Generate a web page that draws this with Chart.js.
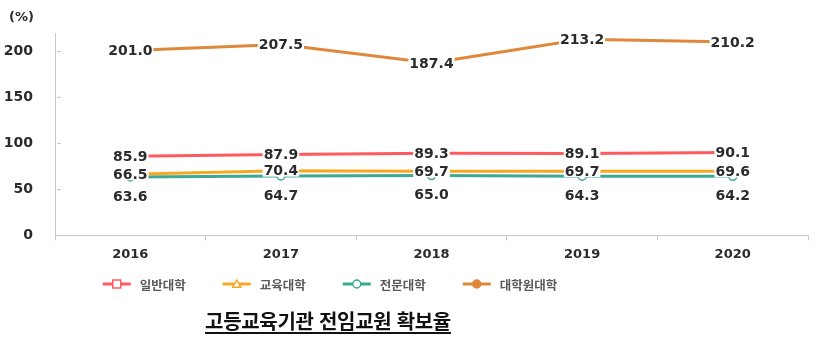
<!DOCTYPE html>
<html lang="ko">
<head>
<meta charset="utf-8">
<script src="https://cdn.jsdelivr.net/npm/chart.js@4.4.1/dist/chart.umd.min.js"></script>
<style>
    html, body { margin: 0; padding: 0; background: #fff; }
    #wrap { position: relative; width: 826px; height: 339px; }
    #title {
        position: absolute; left: 0; width: 656px; top: 306px;
        text-align: center;
        font: bold 20px "Noto Sans CJK KR", sans-serif;
        color: #111;
        text-decoration: underline;
        text-underline-offset: 3px;
        letter-spacing: -0.3px;
    }
</style>
</head>
<body>
<div id="wrap">
    <canvas id="chart" width="826" height="339"></canvas>
    <div id="title">고등교육기관 전임교원 확보율</div>
</div>
<script>
const years = ['2016', '2017', '2018', '2019', '2020'];
const general = [85.9, 87.9, 89.3, 89.1, 90.1];      // 일반대학
const education = [66.5, 70.4, 69.7, 69.7, 69.6];    // 교육대학
const vocational = [63.6, 64.7, 65.0, 64.3, 64.2];   // 전문대학
const graduate = [201.0, 207.5, 187.4, 213.2, 210.2]; // 대학원대학
const yTicks = [0, 50, 100, 150, 200];

const numFont = 'bold 14px "DejaVu Sans", Verdana, sans-serif';

// value labels sit on top of the points; the 전문대학 ones go below
const valueLabels = {
    id: 'valueLabels',
    afterDatasetsDraw(chart) {
        const ctx = chart.ctx;
        ctx.save();
        ctx.font = numFont;
        ctx.textAlign = 'center';
        ctx.textBaseline = 'middle';
        chart.data.datasets.forEach((ds, i) => {
            const meta = chart.getDatasetMeta(i);
            meta.data.forEach((pt, j) => {
                const txt = ds.data[j].toFixed(1);
                const y = pt.y + (ds.labelBelow ? 19 : 0);
                const w = ctx.measureText(txt).width;
                if (!ds.labelBelow) {
                    ctx.fillStyle = '#fff';
                    ctx.fillRect(pt.x - w / 2 - 1, y - 6, w + 2, 12);
                }
                ctx.fillStyle = '#2b2b2b';
                ctx.fillText(txt, pt.x, y + 1);
            });
        });
        ctx.restore();
    }
};

function drawMarker(ctx, style, x, y, r) {
    ctx.beginPath();
    if (style === 'rect') {
        ctx.rect(x - r, y - r, r * 2, r * 2);
    } else if (style === 'triangle') {
        ctx.moveTo(x, y - r);
        ctx.lineTo(x + r, y + r * 0.8);
        ctx.lineTo(x - r, y + r * 0.8);
        ctx.closePath();
    } else {
        ctx.arc(x, y, r, 0, Math.PI * 2);
    }
    ctx.fill();
    ctx.stroke();
}

// small inner ticks on the y axis, "(%)" unit and the legend row
const extras = {
    id: 'extras',
    afterDraw(chart) {
        const ctx = chart.ctx;
        const area = chart.chartArea;
        const yScale = chart.scales.y;
        ctx.save();
        ctx.strokeStyle = '#c8c8c8';
        ctx.lineWidth = 1;
        yTicks.forEach(v => {
            const y = Math.round(yScale.getPixelForValue(v)) + 0.5;
            ctx.beginPath();
            ctx.moveTo(area.left + 2, y);
            ctx.lineTo(area.left + 6, y);
            ctx.stroke();
        });

        ctx.font = 'bold 13px "DejaVu Sans", Verdana, sans-serif';
        ctx.fillStyle = '#2b2b2b';
        ctx.textAlign = 'left';
        ctx.textBaseline = 'middle';
        ctx.fillText('(%)', 9, 18);

        // legend
        ctx.font = 'bold 12.5px "Noto Sans CJK KR", sans-serif';
        const lineW = 28, gapText = 9, gapItem = 37;
        let total = 0;
        const items = chart.data.datasets.map(ds => {
            const tw = ctx.measureText(ds.label).width;
            total += lineW + gapText + tw;
            return { ds, tw };
        });
        total += gapItem * (items.length - 1);
        let x = 330 - total / 2;
        const ly = 284;
        items.forEach(({ ds, tw }) => {
            ctx.strokeStyle = ds.borderColor;
            ctx.lineWidth = 3;
            ctx.beginPath();
            ctx.moveTo(x, ly);
            ctx.lineTo(x + lineW, ly);
            ctx.stroke();
            ctx.lineWidth = 1.5;
            ctx.fillStyle = ds.pointBackgroundColor;
            drawMarker(ctx, ds.pointStyle, x + lineW / 2, ly, 4);
            ctx.fillStyle = '#595959';
            ctx.fillText(ds.label, x + lineW + gapText, ly + 1);
            x += lineW + gapText + tw + gapItem;
        });
        ctx.restore();
    }
};

function series(label, data, color, style, fill, below) {
    return {
        label: label,
        data: data,
        borderColor: color,
        backgroundColor: color,
        borderWidth: 3,
        pointStyle: style,
        pointRadius: 4,
        pointBorderWidth: 1.5,
        pointBackgroundColor: fill,
        pointBorderColor: color,
        tension: 0,
        labelBelow: below
    };
}

new Chart(document.getElementById('chart'), {
    type: 'line',
    data: {
        labels: years,
        datasets: [
            series('일반대학', general, '#ff5a5f', 'rect', '#fff', false),
            series('교육대학', education, '#f7a823', 'triangle', '#fff', false),
            series('전문대학', vocational, '#3aa995', 'circle', '#fff', true),
            series('대학원대학', graduate, '#e0883a', 'circle', '#e0883a', false)
        ]
    },
    options: {
        responsive: false,
        animation: false,
        layout: { padding: { left: 3, right: 18, top: 33, bottom: 71 } },
        plugins: {
            legend: { display: false },
            tooltip: { enabled: false }
        },
        scales: {
            x: {
                offset: true,
                grid: {
                    offset: true,
                    drawOnChartArea: false,
                    tickLength: 5,
                    color: '#c8c8c8'
                },
                border: { color: '#c8c8c8', width: 1 },
                ticks: {
                    padding: 6,
                    color: '#2b2b2b',
                    font: { family: '"DejaVu Sans", Verdana, sans-serif', size: 13, weight: 'bold' }
                }
            },
            y: {
                min: 0,
                max: 220,
                afterBuildTicks: scale => {
                    scale.ticks = yTicks.map(v => ({ value: v }));
                },
                afterFit: scale => {
                    scale.width = 52;
                },
                grid: { display: true, drawOnChartArea: false, drawTicks: false },
                border: { color: '#c8c8c8', width: 1 },
                ticks: {
                    padding: 22,
                    color: '#2b2b2b',
                    font: { family: '"DejaVu Sans", Verdana, sans-serif', size: 14, weight: 'bold' }
                }
            }
        }
    },
    plugins: [valueLabels, extras]
});
</script>
</body>
</html>
